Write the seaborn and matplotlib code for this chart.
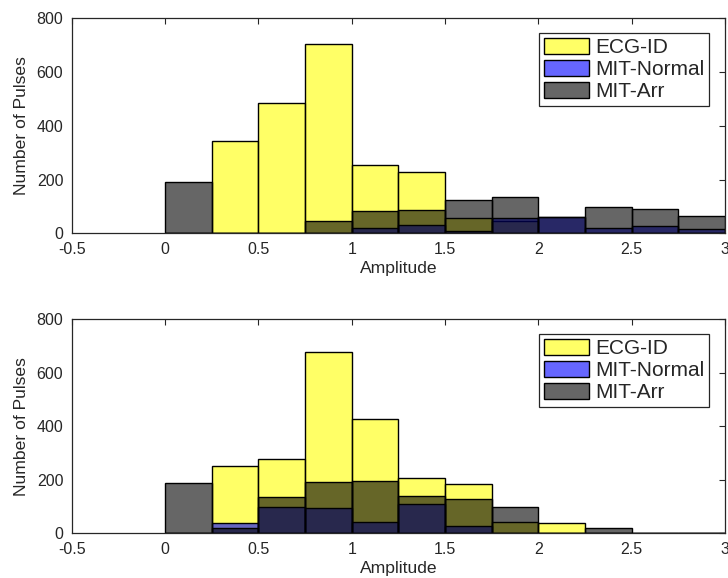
import numpy as np
import pandas as pd
import matplotlib
matplotlib.use("Agg")
import matplotlib.pyplot as plt
from matplotlib.patches import Patch
import seaborn as sns

# ---- data (bin counts, bins of width 0.25 from 0 to 3) ----
bin_edges = [0.0, 0.25, 0.5, 0.75, 1.0, 1.25, 1.5, 1.75, 2.0, 2.25, 2.5, 2.75, 3.0]
series_names = ["ECG-ID", "MIT-Normal", "MIT-Arr"]

ecg_top = [0, 345, 485, 703, 255, 228, 56, 47, 0, 0, 0, 0]
normal_top = [0, 0, 0, 0, 19, 32, 8, 55, 60, 21, 26, 15]
arr_top = [190, 0, 0, 44, 84, 88, 124, 134, 62, 99, 89, 64]

ecg_bot = [0, 252, 279, 679, 426, 206, 183, 42, 37, 0, 0, 0]
normal_bot = [0, 37, 100, 95, 44, 110, 27, 0, 0, 0, 0, 0]
arr_bot = [190, 20, 135, 191, 196, 140, 128, 100, 0, 21, 0, 0]

x_ticks = [-0.5, 0, 0.5, 1, 1.5, 2, 2.5, 3]
x_tick_labels = ["-0.5", "0", "0.5", "1", "1.5", "2", "2.5", "3"]
y_ticks = [0, 200, 400, 600, 800]

colors = {"ECG-ID": (1.0, 1.0, 0.0), "MIT-Normal": (0.0, 0.0, 1.0), "MIT-Arr": (0.0, 0.0, 0.0)}
ALPHA = 0.6

sns.set_style("white")
plt.rcParams["font.family"] = ["Liberation Sans", "DejaVu Sans"]

fig = plt.figure(figsize=(7.28, 5.78), dpi=100)
ax_top = fig.add_axes([0.0985, 0.5964, 0.8974, 0.372])
ax_bot = fig.add_axes([0.0985, 0.0773, 0.8974, 0.370])

edges = np.array(bin_edges)
centers = (edges[:-1] + edges[1:]) / 2
bw = float(edges[1] - edges[0])

def draw(ax, data):
    for name, counts in zip(series_names, data):
        df = pd.DataFrame({"Amplitude": centers, "count": counts})
        sns.histplot(data=df, x="Amplitude", weights="count",
                     binwidth=bw, binrange=(float(edges[0]), float(edges[-1])),
                     color=colors[name], alpha=ALPHA, edgecolor="black",
                     linewidth=1.0, ax=ax)
    ax.set_xlim(-0.5, 3)
    ax.set_ylim(0, 800)
    ax.set_xticks(x_ticks)
    ax.set_xticklabels(x_tick_labels)
    ax.set_yticks(y_ticks)
    ax.tick_params(direction="in", top=True, right=True, length=4,
                   width=0.8, labelsize=11.5, colors="#262626", pad=6)
    for sp in ax.spines.values():
        sp.set_visible(True)
        sp.set_color("#262626")
        sp.set_linewidth(0.9)
    ax.set_xlabel("Amplitude", fontsize=12.6, color="#262626", labelpad=3)
    ax.set_ylabel("Number of Pulses", fontsize=12.6, color="#262626", labelpad=5.5)
    handles = [Patch(facecolor=(*colors[n], ALPHA), edgecolor="black", linewidth=1.0)
               for n in series_names]
    leg = ax.legend(handles, series_names, loc="upper right",
                    bbox_to_anchor=(0.9755, 0.9316), borderaxespad=0,
                    fontsize=15, handlelength=2.16, handleheight=0.85,
                    labelspacing=0.12, handletextpad=0.3, borderpad=0.22,
                    frameon=True, fancybox=False, framealpha=1)
    leg.get_frame().set_edgecolor("#262626")
    leg.get_frame().set_linewidth(0.9)

draw(ax_top, [ecg_top, normal_top, arr_top])
draw(ax_bot, [ecg_bot, normal_bot, arr_bot])

fig.savefig("out.png", dpi=100)
